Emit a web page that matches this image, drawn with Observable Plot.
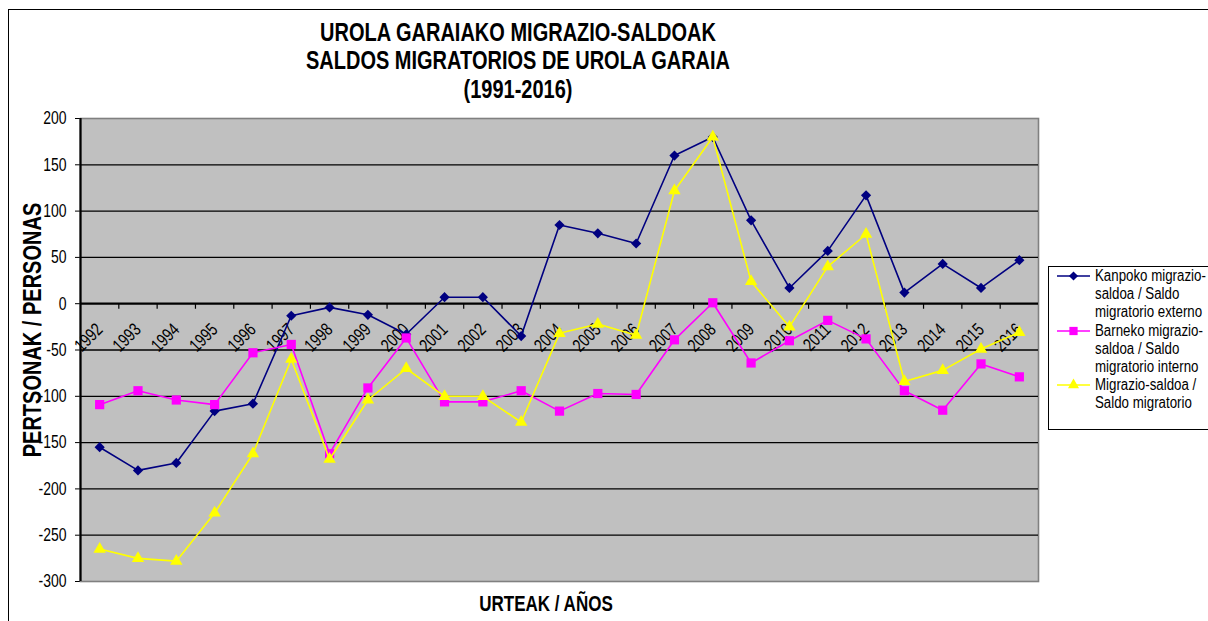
<!DOCTYPE html>
<html>
<head>
<meta charset="utf-8">
<script src="https://cdn.jsdelivr.net/npm/d3@7"></script>
<script src="https://cdn.jsdelivr.net/npm/@observablehq/plot@0.6"></script>
<style>
html, body { margin: 0; padding: 0; background: #fff; overflow: hidden; }
#wrap { position: relative; width: 1208px; height: 621px; overflow: hidden; font-family: "Liberation Sans", Arial, sans-serif; color: #000; }
#border { position: absolute; left: 8px; top: 9px; width: 1400px; height: 800px; border: 1px solid #000; }
#chart { position: absolute; left: 0; top: 0; }
.t { position: absolute; white-space: nowrap; }
.title { left: 0; width: 1036px; text-align: center; font-weight: bold; font-size: 20px; height: 20px; line-height: 20px; transform: scaleY(1.3); }
#xtitle { left: 346px; width: 400px; text-align: center; font-weight: bold; font-size: 17px; height: 17px; line-height: 17px; top: 595px; transform: scaleY(1.3); }
#ytitle { left: -168px; width: 400px; top: 320px; text-align: center; font-weight: bold; font-size: 20px; height: 20px; line-height: 20px; transform: rotate(-90deg) scaleY(1.3); }
#legend { position: absolute; left: 1048px; top: 266px; width: 220px; height: 162px; border: 1px solid #000; background: #fff; }
.lt { position: absolute; font-size: 13.3px; height: 18px; line-height: 18px; transform: scaleY(1.3); transform-origin: left center; white-space: nowrap; }
.ls { position: absolute; }
</style>
</head>
<body>
<div id="wrap">
  <div id="border"></div>
  <div id="chart"></div>
  <div class="t title" style="top:22px">UROLA GARAIAKO MIGRAZIO-SALDOAK</div>
  <div class="t title" style="top:50px">SALDOS MIGRATORIOS DE UROLA GARAIA</div>
  <div class="t title" style="top:79px">(1991-2016)</div>
  <div class="t" id="ytitle">PERTSONAK / PERSONAS</div>
  <div class="t" id="xtitle">URTEAK / AÑOS</div>
  <div id="legend"></div>
</div>
<script>
// ---- data ----
const years = [1992, 1993, 1994, 1995, 1996, 1997, 1998, 1999, 2000, 2001, 2002, 2003, 2004,
               2005, 2006, 2007, 2008, 2009, 2010, 2011, 2012, 2013, 2014, 2015, 2016];
const yearLabels = years.map(String);
const kanpoko = [-155, -180, -172, -116, -108, -13, -4, -12, -33, 7, 7, -35, 85,
                 76, 65, 160, 180, 90, 17, 57, 117, 12, 43, 17, 47];
const barneko = [-109, -94, -104, -109, -53, -44, -162, -91, -37, -106, -106, -94, -116,
                 -97, -98, -39, 1, -64, -40, -18, -38, -94, -115, -65, -79];
const saldoa = [-265, -275, -278, -226, -162, -60, -168, -104, -70, -100, -100, -128, -32,
                -22, -34, 122, 180, 24, -25, 40, 75, -84, -72, -49, -31];
const yTicks = [-300, -250, -200, -150, -100, -50, 0, 50, 100, 150, 200];
const seriesLegend = [
  ["Kanpoko migrazio-", "saldoa / Saldo", "migratorio externo"],
  ["Barneko migrazio-", "saldoa / Saldo", "migratorio interno"],
  ["Migrazio-saldoa /", "Saldo migratorio"]
];
const seriesValues = [kanpoko, barneko, saldoa];
const seriesColors = ["#000080", "#ff00ff", "#ffff00"];
const seriesSymbols = ["diamond2", "square", "triangle"];
const seriesR = [4.6, 5.2, 4.6];

// ---- build ----
const rows = seriesValues.map((vals, s) => years.map((yr, i) => ({year: yr, value: vals[i], s})));
const gridValues = yTicks.filter(v => v !== 0 && v !== 200 && v !== -300);
const boundaries = years.slice(0, -1).map(y => y + 0.5);

const marks = [
  Plot.frame({fill: "#c0c0c0", stroke: "#808080", strokeWidth: 1.6}),
  Plot.ruleY(gridValues, {stroke: "#000", strokeWidth: 1.3}),
  Plot.ruleY([0], {stroke: "#000", strokeWidth: 2.2}),
  Plot.ruleX(boundaries, {y1: 0, y2: -6, stroke: "#000", strokeWidth: 1.2}),
  Plot.ruleX([years[0] - 0.5], {y1: -300, y2: 200, stroke: "#000", strokeWidth: 2.2}),
  Plot.text(years, {x: d => d, y: 0, text: (d, i) => yearLabels[i], rotate: -45, textAnchor: "end", dx: 0, dy: 23, fontSize: 14, fill: "#000"})
];
rows.forEach((data, s) => {
  marks.push(Plot.line(data, {x: "year", y: "value", stroke: seriesColors[s], strokeWidth: 1.6}));
  marks.push(Plot.dot(data, {x: "year", y: "value", symbol: () => seriesSymbols[s], r: seriesR[s], fill: seriesColors[s], stroke: "none"}));
});

const chart = Plot.plot({
  width: 1208,
  height: 621,
  marginLeft: 80,
  marginRight: 170,
  marginTop: 118,
  marginBottom: 40,
  style: {fontFamily: '"Liberation Sans", Arial, sans-serif', fontSize: "14px", background: "transparent", color: "#000", overflow: "visible"},
  x: {type: "linear", domain: [years[0] - 0.5, years[years.length - 1] + 0.5], axis: null},
  y: {domain: [-300, 200], ticks: yTicks, tickSize: 5, tickPadding: 9, tickFormat: d => String(d), label: null},
  symbol: {type: "identity"},
  marks
});
document.getElementById("chart").appendChild(chart);

// stretch glyphs vertically in their own frame (as in the reference rendering)
chart.querySelectorAll("text").forEach(t => {
  const tr = t.getAttribute("transform");
  if (tr) {
    t.setAttribute("transform", tr + " scale(1,1.3)");
  } else {
    const x = +(t.getAttribute("x") || 0), y = +(t.getAttribute("y") || 0);
    t.setAttribute("transform", `translate(${x},${y}) scale(1,1.3) translate(${-x},${-y})`);
  }
});

// ---- legend ----
const legend = document.getElementById("legend");
const lx0 = 1049, ly0 = 267;
let k = 0;
seriesLegend.forEach((lines, s) => {
  const cy = 276 + 18.2 * k;
  const sv = d3.create("svg").attr("class", "ls").attr("width", 36).attr("height", 16)
    .style("left", (1056 - lx0) + "px").style("top", (cy - 8 - ly0) + "px");
  sv.append("line").attr("x1", 1).attr("x2", 34).attr("y1", 8).attr("y2", 8)
    .attr("stroke", seriesColors[s]).attr("stroke-width", 1.6);
  const symMap = {diamond2: d3.symbolDiamond2, square: d3.symbolSquare, triangle: d3.symbolTriangle};
  sv.append("path").attr("transform", "translate(17.5,8)")
    .attr("d", d3.symbol(symMap[seriesSymbols[s]], Math.PI * seriesR[s] * seriesR[s] * 0.8)())
    .attr("fill", seriesColors[s]);
  legend.appendChild(sv.node());
  lines.forEach(line => {
    const c = 276 + 18.2 * k;
    const d = document.createElement("div");
    d.className = "lt";
    d.textContent = line;
    d.style.left = (1095 - lx0) + "px";
    d.style.top = (c - 9 - ly0) + "px";
    legend.appendChild(d);
    k++;
  });
});
</script>
</body>
</html>
